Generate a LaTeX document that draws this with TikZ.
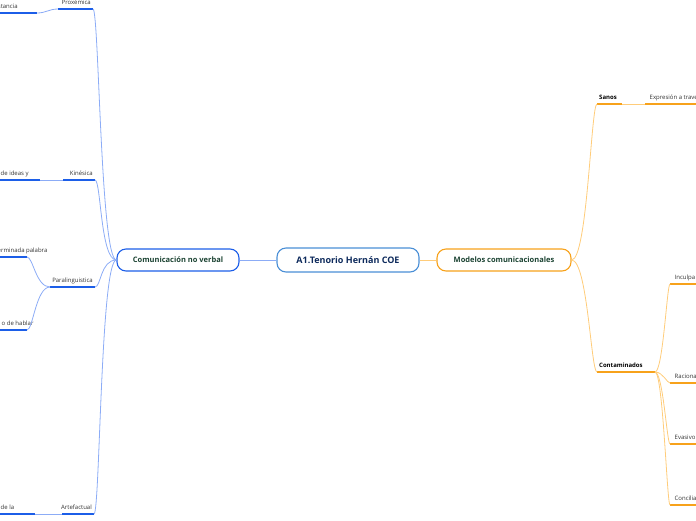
\documentclass[tikz,border=0pt]{standalone}
\usepackage{fontspec}
\setmainfont{Open Sans}
\usepackage{xcolor}
\usetikzlibrary{positioning}
\definecolor{azulfuerte}{RGB}{28,94,232}
\definecolor{azulclaro}{RGB}{140,172,246}
\definecolor{azulcentro}{RGB}{74,143,214}
\definecolor{naranja}{RGB}{247,162,27}
\definecolor{naranjaclaro}{RGB}{255,204,122}
\definecolor{verdeosc}{RGB}{27,67,50}
\definecolor{marino}{RGB}{13,42,92}
\definecolor{texto}{RGB}{51,51,51}

\begin{document}
\begin{tikzpicture}[x=1pt, y=-1pt,
  tema/.style={draw, rounded corners=9pt, line width=1.1pt, minimum height=22pt, inner sep=0pt,
    fill=white, text=verdeosc, font=\fontsize{7.5}{9}\selectfont\bfseries},
  hijo/.style={inner xsep=2pt, inner ysep=3pt, text depth=1.5pt, text=texto, font=\fontsize{6}{7}\selectfont},
  nieto/.style={hijo, anchor=south west, inner xsep=4.5pt},
  conazul/.style={draw=azulclaro, line width=0.8pt},
  subazul/.style={draw=azulfuerte, line width=1.4pt},
  connaranja/.style={draw=naranjaclaro, line width=0.8pt},
  subnaranja/.style={draw=naranja, line width=1.4pt}
]
\useasboundingbox (0,0) rectangle (696,520);
\clip (0,0) rectangle (696,520);

% centre and main topics
\node[tema, draw=azulcentro, text=marino, minimum width=142pt, minimum height=24pt,
  font=\fontsize{9}{11}\selectfont\bfseries] (centro) at (348,260) {A1.Tenorio Hernán COE};
\node[tema, draw=azulfuerte, minimum width=122pt] (noverbal) at (178,260) {Comunicación no verbal};
\node[tema, draw=naranja, minimum width=134pt] (modelos) at (504,260) {Modelos comunicacionales};

\draw[conazul] (centro) -- (noverbal);
\draw[connaranja] (centro) -- (modelos);

% left branch
\node[hijo, anchor=south east] (proxemica)   at (93,9)    {Proxémica};
\node[hijo, anchor=south east] (kinesica)    at (95,180)  {Kinésica};
\node[hijo, anchor=south east] (paraling)    at (95,287)  {Paralinguistica};
\node[hijo, anchor=south east] (artefactual) at (94,514)  {Artefactual};

\draw[subazul] (proxemica.south east)   -- ++(-35,0) coordinate (proxemica-w);
\draw[subazul] (kinesica.south east)    -- ++(-32,0) coordinate (kinesica-w);
\draw[subazul] (paraling.south east)    -- ++(-45,0) coordinate (paraling-w);
\draw[subazul] (artefactual.south east) -- ++(-32,0) coordinate (artefactual-w);

\draw[conazul] (noverbal.west) .. controls +(-16,0) and +(6,0) .. (proxemica.south east);
\draw[conazul] (noverbal.west) .. controls +(-16,0) and +(6,0) .. (kinesica.south east);
\draw[conazul] (noverbal.west) .. controls +(-16,0) and +(6,0) .. (paraling.south east);
\draw[conazul] (noverbal.west) .. controls +(-16,0) and +(6,0) .. (artefactual.south east);

\node[nieto] (distancia) at (-12,13)  {distancia};
\node[nieto] (ideas)     at (-4,180)  {de ideas y};
\node[nieto] (palabra)   at (-7,257)  {erminada palabra};
\node[nieto] (hablar)    at (-3,330)  {o de hablar};
\node[nieto] (dela)      at (-4,514)  {de la};

\draw[subazul] (distancia.south west) -- ++(49,0) coordinate (distancia-e);
\draw[subazul] (ideas.south west)     -- ++(44,0) coordinate (ideas-e);
\draw[subazul] (palabra.south west)   -- ++(34,0) coordinate (palabra-e);
\draw[subazul] (hablar.south west)    -- ++(30,0) coordinate (hablar-e);
\draw[subazul] (dela.south west)      -- ++(39,0) coordinate (dela-e);

\draw[conazul] (proxemica-w) .. controls +(-9,0) and +(9,0) .. (distancia-e);
\draw[conazul] (kinesica-w) -- (ideas-e);
\draw[conazul] (paraling-w) .. controls +(-14,0) and +(6,0) .. (palabra-e);
\draw[conazul] (paraling-w) .. controls +(-14,0) and +(6,0) .. (hablar-e);
\draw[conazul] (artefactual-w) -- (dela-e);

% right branch
\node[hijo, anchor=south west, text=black, font=\fontsize{6}{7}\selectfont\bfseries] (sanos)        at (597,104) {Sanos};
\node[hijo, anchor=south west, text=black, font=\fontsize{6}{7}\selectfont\bfseries] (contaminados) at (597,372) {Contaminados};

\draw[subnaranja] (sanos.south west)        -- ++(25,0) coordinate (sanos-e);
\draw[subnaranja] (contaminados.south west) -- ++(58,0) coordinate (contaminados-e);

\draw[connaranja] (modelos.east) .. controls +(16,0) and +(-6,0) .. (sanos.south west);
\draw[connaranja] (modelos.east) .. controls +(16,0) and +(-6,0) .. (contaminados.south west);

\node[nieto] (expresion) at (645,104) {Expresión a trave};
\node[nieto] (inculpa)   at (670,284) {Inculpa};
\node[nieto] (raciona)   at (670,383) {Raciona};
\node[nieto] (evasivo)   at (670,444) {Evasivo};
\node[nieto] (concilia)  at (670,505) {Concilia};

\draw[subnaranja] (expresion.south west) -- ++(60,0);
\draw[subnaranja] (inculpa.south west)   -- ++(40,0);
\draw[subnaranja] (raciona.south west)   -- ++(40,0);
\draw[subnaranja] (evasivo.south west)   -- ++(40,0);
\draw[subnaranja] (concilia.south west)  -- ++(40,0);

\draw[connaranja] (sanos-e) -- (expresion.south west);
\draw[connaranja] (contaminados-e) .. controls +(8,0) and +(-3,0) .. (inculpa.south west);
\draw[connaranja] (contaminados-e) .. controls +(8,0) and +(-3,0) .. (raciona.south west);
\draw[connaranja] (contaminados-e) .. controls +(8,0) and +(-3,0) .. (evasivo.south west);
\draw[connaranja] (contaminados-e) .. controls +(8,0) and +(-3,0) .. (concilia.south west);
\end{tikzpicture}
\end{document}
